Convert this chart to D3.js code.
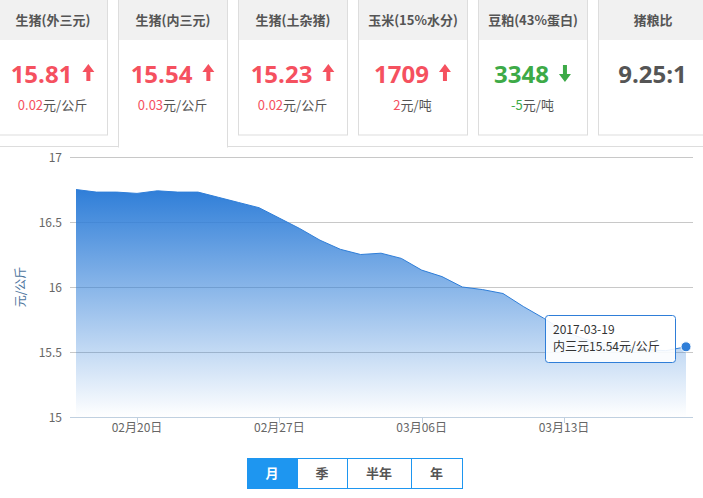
<!DOCTYPE html>
<html><head><meta charset="utf-8">
<script src="https://cdn.jsdelivr.net/npm/d3@7"></script>
<style>
body{margin:0;background:#fff;font-family:"Microsoft YaHei","Noto Sans CJK SC",sans-serif;}
</style></head>
<body><div id="chart"></div>
<script>
var cardTitles = ['生猪(外三元)', '生猪(内三元)', '生猪(土杂猪)', '玉米(15%水分)', '豆粕(43%蛋白)', '猪粮比'];
var cardValues = ['15.81', '15.54', '15.23', '1709', '3348', '9.25:1'];
var cardChange = ['0.02', '0.03', '0.02', '2', '-5', ''];
var cardUnits = ['元/公斤', '元/公斤', '元/公斤', '元/吨', '元/吨', ''];
var cardDir = ['up', 'up', 'up', 'up', 'down', 'none'];

var dates = ['2017-02-17','2017-02-18','2017-02-19','2017-02-20','2017-02-21','2017-02-22','2017-02-23','2017-02-24','2017-02-25','2017-02-26','2017-02-27','2017-02-28','2017-03-01','2017-03-02','2017-03-03','2017-03-04','2017-03-05','2017-03-06','2017-03-07','2017-03-08','2017-03-09','2017-03-10','2017-03-11','2017-03-12','2017-03-13','2017-03-14','2017-03-15','2017-03-16','2017-03-17','2017-03-18','2017-03-19'];
var prices = [16.75,16.73,16.73,16.72,16.74,16.73,16.73,16.69,16.65,16.61,16.53,16.45,16.36,16.29,16.25,16.26,16.22,16.13,16.08,16.00,15.98,15.95,15.85,15.76,15.66,15.60,15.56,15.54,15.52,15.51,15.54];
var yTicks = [15, 15.5, 16, 16.5, 17];
var xTicks = ['2017-02-20','2017-02-27','2017-03-06','2017-03-13'];
var buttons = ['月', '季', '半年', '年'];

var W = 703, H = 498;
var svg = d3.select('#chart').append('svg').attr('width', W).attr('height', H);
var red = '#f5515f', green = '#3daa47', grey = '#555';

// cards
var cardX = d3.scaleLinear().domain([0, 1]).range([-2, 118]);
svg.append('line').attr('x1', 0).attr('x2', W).attr('y1', 146.5).attr('y2', 146.5).attr('stroke', '#ddd');
cardTitles.forEach(function (t, i) {
    var x = cardX(i), w = 109, active = i === 1;
    var g = svg.append('g').attr('transform', 'translate(' + x + ',0)');
    var h = active ? 147 : 135;
    g.append('rect').attr('x', 0.5).attr('y', -1).attr('width', w).attr('height', h + 1)
        .attr('fill', '#fff').attr('stroke', '#ddd');
    if (active) g.append('rect').attr('x', 1).attr('y', 140).attr('width', w - 1).attr('height', 8).attr('fill', '#fff');
    g.append('rect').attr('x', 1).attr('y', 0).attr('width', w - 1).attr('height', 40).attr('fill', '#f1f1f1');
    g.append('text').attr('x', w / 2 + 0.5).attr('y', 25).attr('text-anchor', 'middle')
        .attr('font-size', 13).attr('font-weight', 'bold').attr('fill', grey).text(t);
    var col = cardDir[i] === 'up' ? red : cardDir[i] === 'down' ? green : grey;
    var vt = g.append('text').attr('y', 83).attr('font-size', 24).attr('font-weight', 'bold')
        .attr('fill', col).attr('font-family', 'Open Sans, sans-serif').text(cardValues[i]);
    var vw = vt.node().getComputedTextLength();
    var total = vw + (cardDir[i] === 'none' ? 0 : 22);
    var vx = w / 2 - total / 2;
    vt.attr('x', vx);
    if (cardDir[i] !== 'none') {
        var ax = vx + vw + 16, up = cardDir[i] === 'up';
        var a = up ? 'M' + (ax - 6) + ',72 L' + ax + ',64 L' + (ax + 6) + ',72 L' + (ax + 2) + ',72 L' + (ax + 2) + ',81 L' + (ax - 2) + ',81 L' + (ax - 2) + ',72 Z'
                   : 'M' + (ax - 6) + ',74 L' + ax + ',82 L' + (ax + 6) + ',74 L' + (ax + 2) + ',74 L' + (ax + 2) + ',65 L' + (ax - 2) + ',65 L' + (ax - 2) + ',74 Z';
        g.append('path').attr('d', a).attr('fill', col);
        var st = g.append('text').attr('x', w / 2).attr('y', 110).attr('text-anchor', 'middle').attr('font-size', 13);
        st.append('tspan').attr('fill', col).text(cardChange[i]);
        st.append('tspan').attr('fill', grey).text(cardUnits[i]);
    }
});

// chart
var parse = d3.timeParse('%Y-%m-%d');
var data = dates.map(function (d, i) { return { date: parse(d), v: prices[i] }; });
var x = d3.scaleTime().domain(d3.extent(data, d => d.date)).range([76, 686]);
var y = d3.scaleLinear().domain([15, 17]).range([417, 157]);

var defs = svg.append('defs');
var grad = defs.append('linearGradient').attr('id', 'fillg').attr('x1', 0).attr('x2', 0).attr('y1', 0).attr('y2', 1);
grad.append('stop').attr('offset', '0%').attr('stop-color', '#2f7ed8').attr('stop-opacity', 1);
grad.append('stop').attr('offset', '100%').attr('stop-color', '#2f7ed8').attr('stop-opacity', 0);

svg.selectAll('.grid').data(yTicks).enter().append('line')
    .attr('x1', 70).attr('x2', 693).attr('y1', d => Math.round(y(d)) + 0.5).attr('y2', d => Math.round(y(d)) + 0.5)
    .attr('stroke', (d) => d === 15 ? '#c0d0e0' : '#c8c8c8');
svg.selectAll('.yl').data(yTicks).enter().append('text')
    .attr('x', 62).attr('y', d => y(d) + 5).attr('text-anchor', 'end')
    .attr('font-size', 12).attr('fill', '#666').text(d => d);

var area = d3.area().x(d => x(d.date)).y0(y(15)).y1(d => y(d.v));
grad.attr('gradientUnits', 'userSpaceOnUse').attr('y1', y(d3.max(prices))).attr('y2', y(15));
svg.append('path').datum(data).attr('d', area).attr('fill', 'url(#fillg)');
svg.append('path').datum(data).attr('d', d3.line().x(d => x(d.date)).y(d => y(d.v)))
    .attr('fill', 'none').attr('stroke', '#2f7ed8').attr('stroke-width', 1);

svg.selectAll('.xt').data(xTicks).enter().append('line')
    .attr('x1', d => Math.round(x(parse(d))) + 0.5).attr('x2', d => Math.round(x(parse(d))) + 0.5)
    .attr('y1', 417).attr('y2', 423).attr('stroke', '#c0d0e0');
svg.selectAll('.xl').data(xTicks).enter().append('text')
    .attr('x', d => x(parse(d))).attr('y', 432).attr('text-anchor', 'middle')
    .attr('font-size', 12).attr('fill', '#666').text(d => d3.timeFormat('%m月%d日')(parse(d)));

svg.append('text').attr('transform', 'translate(25,287) rotate(-90)').attr('text-anchor', 'middle')
    .attr('font-size', 12).attr('fill', '#4d759e').text('元/公斤');

var last = data[data.length - 1];
svg.append('circle').attr('cx', x(last.date)).attr('cy', y(last.v)).attr('r', 5)
    .attr('fill', '#2f7ed8').attr('stroke', '#fff').attr('stroke-width', 1);

// tooltip
var tt = svg.append('g').attr('transform', 'translate(545,315)');
tt.append('rect').attr('x', 0.5).attr('y', 0.5).attr('width', 130).attr('height', 47).attr('rx', 3)
    .attr('fill', 'rgba(255,255,255,0.9)').attr('stroke', '#2f7ed8');
tt.append('text').attr('x', 8).attr('y', 19).attr('font-size', 12).attr('fill', '#333').text(dates[dates.length - 1]);
tt.append('text').attr('x', 8).attr('y', 36).attr('font-size', 12).attr('fill', '#333').text('内三元' + last.v + '元/公斤');

// buttons
var bw = [50, 50, 64, 51], bx = 247;
buttons.forEach(function (b, i) {
    var g = svg.append('g').attr('transform', 'translate(' + bx + ',458)');
    g.append('rect').attr('x', 0.5).attr('y', 0.5).attr('width', bw[i]).attr('height', 30)
        .attr('fill', i === 0 ? '#1e96f0' : '#fff').attr('stroke', '#1e96f0');
    g.append('text').attr('x', bw[i] / 2).attr('y', 20).attr('text-anchor', 'middle')
        .attr('font-size', 13).attr('font-weight', 'bold').attr('fill', i === 0 ? '#fff' : '#555').text(b);
    bx += bw[i];
});
</script></body></html>
